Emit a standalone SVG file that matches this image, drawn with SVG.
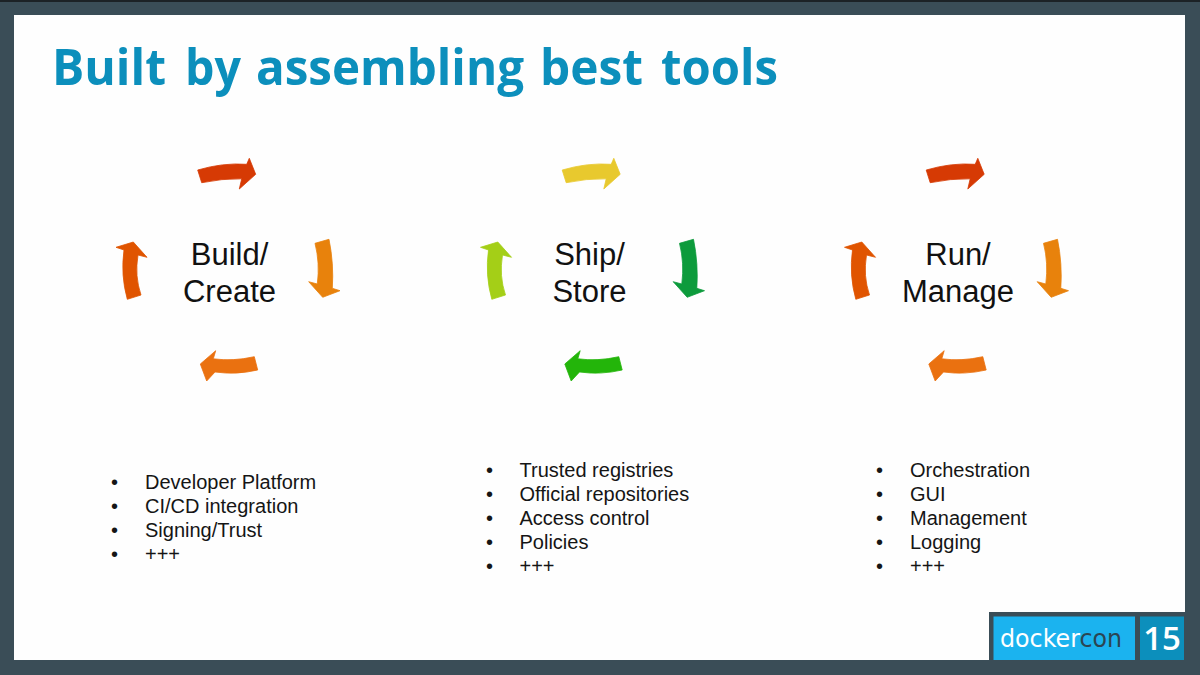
<svg xmlns="http://www.w3.org/2000/svg" width="1200" height="675" viewBox="0 0 1200 675">
<defs>
<path id="arrow-top" d="M197.7 170 Q223 162.500 246.7 164.3 L249.3 158.3 L255.7 174.3 L239.3 189 L241.7 178.8 Q222 178.500 201.7 182.7 Z"/>
<path id="arrow-right" d="M315 243.3 L329 239.3 Q334 264 332.3 288.3 L340 290.7 L322.7 297.3 L308.7 281.7 L317.3 284 Q320 263 315 243.3 Z"/>
<path id="arrow-bottom" d="M254.3 356.7 L257.7 370 Q236 375 215 372 L206.7 381 L200.3 364 L215.7 350.7 L213.3 358.8 Q233 361.500 254.3 356.7 Z"/>
<path id="arrow-left" d="M141 295 L127.3 299.3 Q120.500 275 124 250 L116 247.3 L133.3 242 L147 257.3 L138 255 Q134.500 276 141 295 Z"/>
</defs>
<style>
.cap{font:31px "Liberation Sans",Arial,sans-serif;fill:#111;text-anchor:middle}
.li,.dot{font:20px "Liberation Sans",Arial,sans-serif;fill:#151515}
.title{font-family:"Open Sans","Noto Sans",sans-serif;font-weight:700;font-size:50px;fill:#0c8fbc}
use{stroke-width:.8;stroke-linejoin:round}
.red{fill:#d63a04;stroke:#d63a04}.amber{fill:#e8820c;stroke:#e8820c}.orange{fill:#ea7110;stroke:#ea7110}.deep{fill:#e05400;stroke:#e05400}
.yellow{fill:#e8c92e;stroke:#e8c92e}.green{fill:#0d9b3c;stroke:#0d9b3c}.grass{fill:#23b50a;stroke:#23b50a}.lime{fill:#a4cf17;stroke:#a4cf17}
</style>
<rect id="frame" width="1200" height="675" fill="#3a4d57"/>
<rect x="0" y="0" width="1200" height="2" fill="#1c2226"/>
<rect id="slide" x="14" y="15" width="1171" height="645" fill="#fefefe"/>
<text id="title" class="title" y="85"><tspan x="52" textLength="114" lengthAdjust="spacingAndGlyphs">Built</tspan> <tspan x="185" textLength="56" lengthAdjust="spacingAndGlyphs">by</tspan> <tspan x="256" textLength="268" lengthAdjust="spacingAndGlyphs">assembling</tspan> <tspan x="540" textLength="103" lengthAdjust="spacingAndGlyphs">best</tspan> <tspan x="661" textLength="117" lengthAdjust="spacingAndGlyphs">tools</tspan></text>

<g id="connectors">
<g id="cycle-build">
<use href="#arrow-top" class="red"/><use href="#arrow-right" class="amber"/><use href="#arrow-bottom" class="orange"/><use href="#arrow-left" class="deep"/>
</g>
<g id="cycle-ship" transform="translate(364.5 0)">
<use href="#arrow-top" class="yellow"/><use href="#arrow-right" class="green"/><use href="#arrow-bottom" class="grass"/><use href="#arrow-left" class="lime"/>
</g>
<g id="cycle-run" transform="translate(728.5 0)">
<use href="#arrow-top" class="red"/><use href="#arrow-right" class="amber"/><use href="#arrow-bottom" class="orange"/><use href="#arrow-left" class="deep"/>
</g>
</g>

<g id="node-build"><text class="cap" x="229.5" y="265">Build/</text><text class="cap" x="229.5" y="302">Create</text></g>
<g id="node-ship"><text class="cap" x="589.5" y="265">Ship/</text><text class="cap" x="589.5" y="302">Store</text></g>
<g id="node-run"><text class="cap" x="958" y="265">Run/</text><text class="cap" x="958" y="302">Manage</text></g>

<g id="list-build">
<text class="dot" x="111" y="489">•</text><text class="li" x="145" y="489">Developer Platform</text>
<text class="dot" x="111" y="513">•</text><text class="li" x="145" y="513">CI/CD integration</text>
<text class="dot" x="111" y="537">•</text><text class="li" x="145" y="537">Signing/Trust</text>
<text class="dot" x="111" y="561">•</text><text class="li" x="145" y="561">+++</text>
</g>
<g id="list-ship">
<text class="dot" x="486" y="477">•</text><text class="li" x="519.500" y="477">Trusted registries</text>
<text class="dot" x="486" y="501">•</text><text class="li" x="519.500" y="501">Official repositories</text>
<text class="dot" x="486" y="525">•</text><text class="li" x="519.500" y="525">Access control</text>
<text class="dot" x="486" y="549">•</text><text class="li" x="519.500" y="549">Policies</text>
<text class="dot" x="486" y="573">•</text><text class="li" x="519.500" y="573">+++</text>
</g>
<g id="list-run">
<text class="dot" x="876" y="477">•</text><text class="li" x="910" y="477">Orchestration</text>
<text class="dot" x="876" y="501">•</text><text class="li" x="910" y="501">GUI</text>
<text class="dot" x="876" y="525">•</text><text class="li" x="910" y="525">Management</text>
<text class="dot" x="876" y="549">•</text><text class="li" x="910" y="549">Logging</text>
<text class="dot" x="876" y="573">•</text><text class="li" x="910" y="573">+++</text>
</g>

<g id="logo">
<rect x="989" y="612" width="196" height="48" fill="#3a4d57"/>
<rect x="993.500" y="616.500" width="141.500" height="43.500" fill="#1bb3ef"/>
<rect x="1140" y="616.500" width="44" height="43.500" fill="#0c8fbc"/>
<text x="1000" y="647" font-family="'DejaVu Sans',sans-serif" font-weight="400" font-size="25" textLength="122" lengthAdjust="spacingAndGlyphs"><tspan fill="#ffffff">docker</tspan><tspan fill="#2b4552">con</tspan></text>
<text x="1162" y="650" text-anchor="middle" font-family="'Open Sans',sans-serif" font-weight="600" font-size="33" fill="#ffffff">15</text>
</g>
</svg>
